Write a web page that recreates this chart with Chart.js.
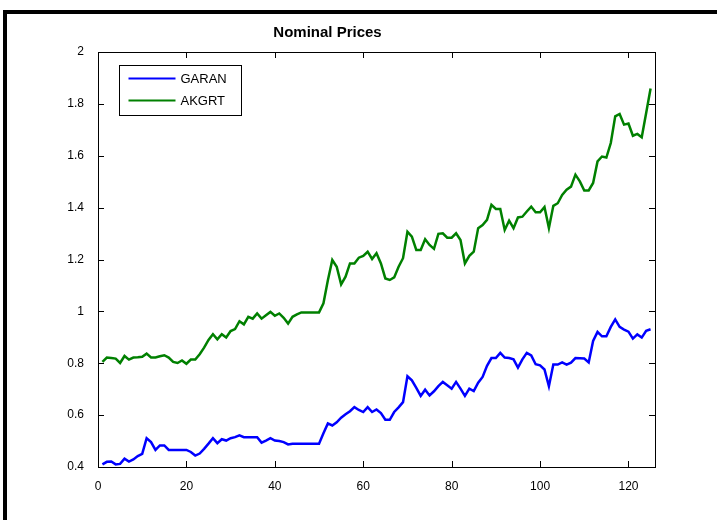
<!DOCTYPE html>
<html lang="en">

<head>
    <meta charset="UTF-8">
    <title>Nominal Prices</title>
    <script src="https://cdn.jsdelivr.net/npm/chart.js@4.4.1/dist/chart.umd.min.js"></script>
    <style>
        body {
            margin: 0;
            background: #fff;
        }

        .frame {
            position: absolute;
            left: 3px;
            top: 10px;
            right: 0;
            bottom: 0;
            border-top: 4px solid #000;
            border-left: 4px solid #000;
        }

        .wrap {
            position: absolute;
            left: 0;
            top: 0;
            width: 717px;
            height: 520px;
        }
    </style>
</head>

<body>
    <div class="frame"></div>
    <div class="wrap">
        <canvas id="chrt" aria-label="chart" role="img"></canvas>
    </div>

    <script>
        // daily closing prices, day 1 .. 125
        const garan = [
            0.410, 0.420, 0.421, 0.410, 0.412, 0.432, 0.421, 0.429, 0.442, 0.451,
            0.511, 0.496, 0.466, 0.483, 0.483, 0.466, 0.466, 0.466, 0.466, 0.466,
            0.458, 0.444, 0.452, 0.470, 0.490, 0.511, 0.492, 0.507, 0.502, 0.511,
            0.515, 0.522, 0.515, 0.515, 0.515, 0.515, 0.494, 0.502, 0.511, 0.502,
            0.500, 0.496, 0.487, 0.490, 0.490, 0.490, 0.490, 0.490, 0.490, 0.490,
            0.530, 0.568, 0.560, 0.572, 0.590, 0.603, 0.615, 0.631, 0.620, 0.612,
            0.631, 0.612, 0.622, 0.608, 0.582, 0.582, 0.612, 0.630, 0.650, 0.750,
            0.734, 0.705, 0.674, 0.698, 0.676, 0.692, 0.712, 0.728, 0.715, 0.702,
            0.728, 0.702, 0.674, 0.702, 0.693, 0.725, 0.747, 0.790, 0.820, 0.820,
            0.840, 0.822, 0.820, 0.815, 0.783, 0.815, 0.840, 0.830, 0.796, 0.792,
            0.776, 0.711, 0.795, 0.795, 0.803, 0.795, 0.802, 0.820, 0.819, 0.818,
            0.803, 0.886, 0.921, 0.904, 0.904, 0.940, 0.969, 0.940, 0.930, 0.922,
            0.895, 0.911, 0.899, 0.925, 0.931
        ]
        const akgrt = [
            0.805, 0.822, 0.820, 0.818, 0.801, 0.828, 0.814, 0.822, 0.823, 0.825,
            0.837, 0.822, 0.822, 0.827, 0.831, 0.822, 0.805, 0.801, 0.811, 0.798,
            0.814, 0.814, 0.835, 0.860, 0.890, 0.912, 0.892, 0.912, 0.899, 0.924,
            0.932, 0.962, 0.950, 0.979, 0.972, 0.992, 0.972, 0.985, 0.998, 0.983,
            0.992, 0.975, 0.953, 0.979, 0.988, 0.996, 0.996, 0.996, 0.996, 0.996,
            1.031, 1.120, 1.198, 1.172, 1.104, 1.134, 1.185, 1.185, 1.207, 1.214,
            1.230, 1.202, 1.224, 1.185, 1.127, 1.121, 1.131, 1.172, 1.205, 1.307,
            1.288, 1.237, 1.237, 1.278, 1.256, 1.241, 1.299, 1.301, 1.284, 1.284,
            1.301, 1.275, 1.185, 1.214, 1.230, 1.321, 1.333, 1.353, 1.411, 1.395,
            1.395, 1.314, 1.350, 1.321, 1.362, 1.365, 1.385, 1.404, 1.382, 1.382,
            1.402, 1.321, 1.407, 1.417, 1.449, 1.469, 1.481, 1.527, 1.501, 1.466,
            1.466, 1.495, 1.578, 1.597, 1.593, 1.649, 1.752, 1.761, 1.720, 1.724,
            1.677, 1.684, 1.671, 1.765, 1.859
        ]
        const seriesNames = ['GARAN', 'AKGRT']
        const seriesColors = ['#0000ff', '#008000']
        const xTicks = [0, 20, 40, 60, 80, 100, 120]
        const yTicks = [0.4, 0.6, 0.8, 1, 1.2, 1.4, 1.6, 1.8, 2]

        const font = 'Liberation Sans, Arial, Helvetica, sans-serif'

        let toPoints = arr => arr.map((v, i) => ({ x: i + 1, y: v }))

        // matlab style axes: closed box, ticks pointing inward on all four sides, boxed legend
        const axesBox = {
            id: 'axesBox',
            afterDraw(chart) {
                const { ctx, chartArea: a, scales: { x, y } } = chart
                ctx.save()
                ctx.strokeStyle = '#000'
                ctx.lineWidth = 1
                ctx.strokeRect(Math.round(a.left) + 0.5, Math.round(a.top) + 0.5,
                    Math.round(a.right) - Math.round(a.left), Math.round(a.bottom) - Math.round(a.top))

                ctx.beginPath()
                xTicks.forEach(t => {
                    let px = Math.round(x.getPixelForValue(t)) + 0.5
                    ctx.moveTo(px, a.bottom)
                    ctx.lineTo(px, a.bottom - 6)
                    ctx.moveTo(px, a.top)
                    ctx.lineTo(px, a.top + 6)
                })
                yTicks.forEach(t => {
                    let py = Math.round(y.getPixelForValue(t)) + 0.5
                    ctx.moveTo(a.left, py)
                    ctx.lineTo(a.left + 6, py)
                    ctx.moveTo(a.right, py)
                    ctx.lineTo(a.right - 6, py)
                })
                ctx.stroke()

                // legend
                let lx = 119.5, ly = 65.5
                ctx.fillStyle = '#fff'
                ctx.fillRect(lx, ly, 122, 50)
                ctx.strokeRect(lx, ly, 122, 50)
                ctx.font = '13px ' + font
                ctx.textBaseline = 'middle'
                chart.data.datasets.forEach((ds, i) => {
                    let row = ly + 13 + i * 22
                    ctx.strokeStyle = ds.borderColor
                    ctx.lineWidth = 2
                    ctx.beginPath()
                    ctx.moveTo(lx + 9, row)
                    ctx.lineTo(lx + 56, row)
                    ctx.stroke()
                    ctx.fillStyle = '#000'
                    ctx.fillText(ds.label, lx + 61, row + 1)
                })
                ctx.restore()
            }
        }

        let chrt = document.getElementById('chrt').getContext('2d')

        let myChart = new Chart(chrt, {
            type: 'line',
            data: {
                datasets: [
                    {
                        label: seriesNames[0],
                        data: toPoints(garan),
                        borderColor: seriesColors[0],
                        borderWidth: 2.5,
                        pointRadius: 0,
                        tension: 0
                    },
                    {
                        label: seriesNames[1],
                        data: toPoints(akgrt),
                        borderColor: seriesColors[1],
                        borderWidth: 2.5,
                        pointRadius: 0,
                        tension: 0
                    }
                ]
            },
            options: {
                responsive: true,
                maintainAspectRatio: false,
                animation: false,
                devicePixelRatio: 1,
                layout: {
                    padding: { top: 0, right: 62, bottom: 0, left: 0 }
                },
                plugins: {
                    legend: { display: false },
                    tooltip: { enabled: false },
                    title: {
                        display: true,
                        text: 'Nominal Prices',
                        color: '#000',
                        font: { family: font, size: 15, weight: 'bold' },
                        padding: { top: 24, bottom: 10 }
                    }
                },
                scales: {
                    x: {
                        type: 'linear',
                        min: 0,
                        max: 126,
                        grid: { display: false },
                        border: { display: false },
                        afterFit: s => { s.height = 53 },
                        afterBuildTicks: s => { s.ticks = xTicks.map(v => ({ value: v })) },
                        ticks: {
                            color: '#000',
                            padding: 4,
                            maxRotation: 0,
                            font: { family: font, size: 12 }
                        }
                    },
                    y: {
                        min: 0.4,
                        max: 2,
                        grid: { display: false },
                        border: { display: false },
                        afterFit: s => { s.width = 98 },
                        afterBuildTicks: s => { s.ticks = yTicks.map(v => ({ value: v })) },
                        ticks: {
                            color: '#000',
                            padding: 6,
                            font: { family: font, size: 12 },
                            callback: v => String(Number(v.toFixed(1)))
                        }
                    }
                }
            },
            plugins: [axesBox]
        })
    </script>

</body>

</html>
